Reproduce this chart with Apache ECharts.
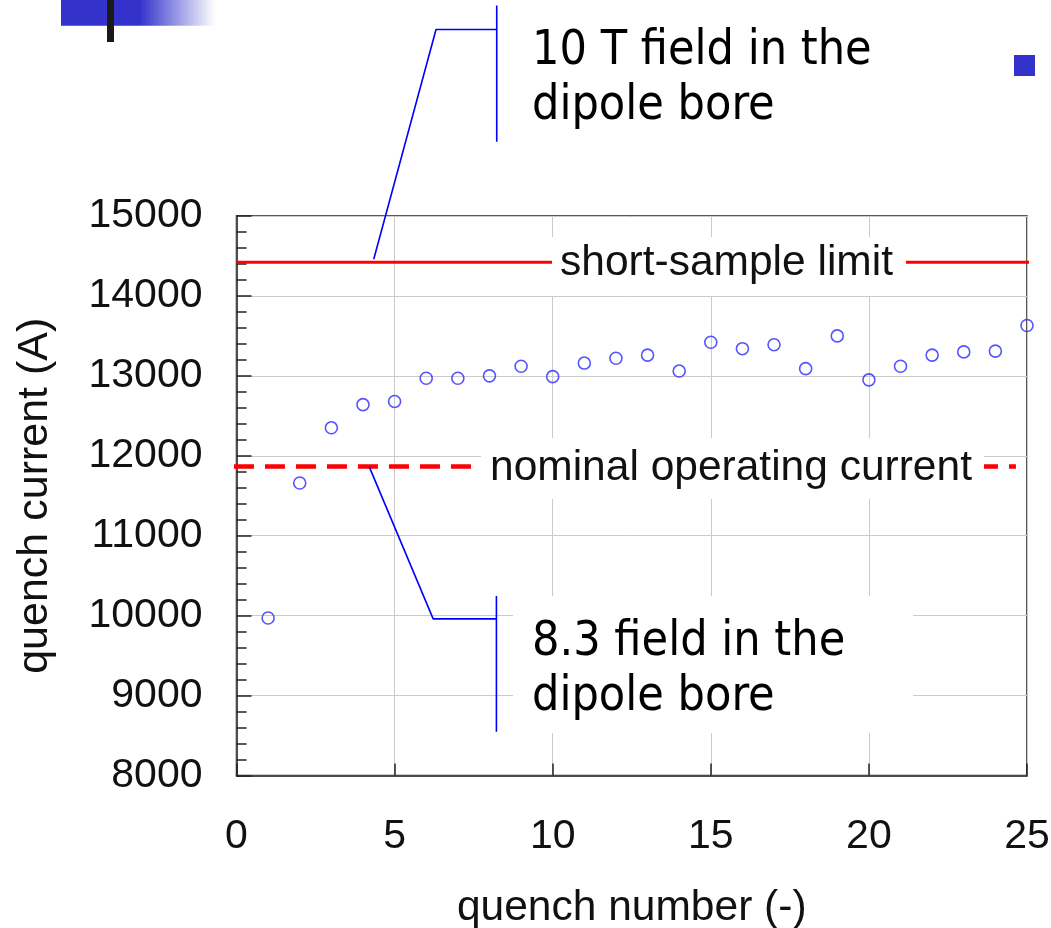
<!DOCTYPE html>
<html>
<head>
<meta charset="utf-8">
<script src="https://cdn.jsdelivr.net/npm/echarts@6/dist/echarts.min.js"></script>
<style>
html,body{margin:0;padding:0;background:#fff;}
#chart{width:1051px;height:928px;}
</style>
</head>
<body>
<div id="chart"></div>
<script>
// ---- data ----
const quenchNumbers = [1,2,3,4,5,6,7,8,9,10,11,12,13,14,15,16,17,18,19,20,21,22,23,24,25];
const quenchCurrents = [9970,11660,12350,12640,12680,12970,12970,13000,13120,12990,13160,13220,13260,13060,13420,13340,13390,13090,13500,12950,13120,13260,13300,13310,13630];
const shortSampleLimit = 14420;
const nominalCurrent = 11866;
const xTicks = [0,5,10,15,20,25];
const yTicks = [8000,9000,10000,11000,12000,13000,14000,15000];
// callouts (data units)
const callout10T = [[4.34,14458],[6.31,17334],[8.23,17334],[8.23,17634],[8.23,15929]];
const callout83 = [[4.2,11862],[6.22,9959],[8.22,9959],[8.22,10246],[8.22,8546]];

const chart = echarts.init(document.getElementById('chart'), null, {renderer:'canvas'});
const FONT = 'Liberation Sans';
const CFONT = "'DejaVu Sans Condensed', 'Liberation Sans'";

const option = {
  backgroundColor:'#ffffff',
  animation:false,
  grid:{left:236.5, right:24, top:216, bottom:152.5, show:true, borderColor:'#222', borderWidth:1.5,
        containLabel:false, outerBoundsMode:'none'},
  xAxis:{
    type:'value', min:xTicks[0], max:xTicks[xTicks.length-1], interval:5,
    name:'quench number (-)', nameLocation:'middle', nameGap:111,
    nameTextStyle:{fontFamily:FONT, fontSize:42.5, color:'#111'},
    axisLine:{show:true, lineStyle:{color:'#222', width:1.5}},
    axisTick:{show:true, inside:true, length:12, lineStyle:{color:'#222', width:1.5}},
    axisLabel:{fontFamily:FONT, fontSize:41, color:'#111', margin:41, formatter:v=>String(v)},
    splitLine:{show:true, lineStyle:{color:'#cbcbcb', width:1}}
  },
  yAxis:{
    type:'value', min:yTicks[0], max:yTicks[yTicks.length-1], interval:1000,
    name:'quench current (A)', nameLocation:'middle', nameGap:180, nameRotate:90,
    nameTextStyle:{fontFamily:FONT, fontSize:43, color:'#111'},
    axisLine:{show:true, lineStyle:{color:'#222', width:1.5}},
    axisTick:{show:true, inside:true, length:15, lineStyle:{color:'#222', width:1.5}},
    minorTick:{show:true, splitNumber:5, length:10, lineStyle:{color:'#222', width:1.5}},
    axisLabel:{fontFamily:FONT, fontSize:41, color:'#111', margin:34, formatter:v=>String(v)},
    splitLine:{show:true, lineStyle:{color:'#cbcbcb', width:1}}
  },
  series:[
    {type:'line', data:[[0,shortSampleLimit],[25.1,shortSampleLimit]], symbol:'none', clip:false,
     lineStyle:{color:'#ff0000', width:3}, z:3},
    {type:'line', data:[[-0.08,nominalCurrent],[24.65,nominalCurrent]], symbol:'none', clip:false,
     lineStyle:{color:'#ff0000', width:4.5, type:[20,11]}, z:3},
    {type:'scatter', data:quenchNumbers.map((q,i)=>[q,quenchCurrents[i]]), symbol:'circle', symbolSize:12,
     itemStyle:{color:'rgba(255,255,255,0)', borderColor:'#2a2aff', borderWidth:1.6}, z:4},
    {type:'line', data:callout10T, symbol:'none', clip:false, lineStyle:{color:'#0000ff', width:1.6}, z:6},
    {type:'line', data:callout83, symbol:'none', clip:false, lineStyle:{color:'#0000ff', width:1.6}, z:6}
  ],
  graphic:[
    // label boxes
    {type:'rect', z:50, shape:{x:552, y:237, width:354, height:59}, style:{fill:'#fff'}},
    {type:'text', z:51, style:{text:'short-sample limit', x:560, y:263, fontFamily:FONT, fontSize:42.5, fill:'#111', align:'left', verticalAlign:'middle'}},
    {type:'rect', z:50, shape:{x:481, y:438, width:503, height:61}, style:{fill:'#fff'}},
    {type:'text', z:51, style:{text:'nominal operating current', x:490, y:468, fontFamily:FONT, fontSize:42.5, fill:'#111', align:'left', verticalAlign:'middle'}},
    {type:'rect', z:50, shape:{x:513, y:596, width:400, height:137}, style:{fill:'#fff'}},
    {type:'text', z:51, style:{text:'8.3 field in the\ndipole bore', x:532, y:615, fontFamily:CFONT, fontSize:48, lineHeight:55, fill:'#000', align:'left', verticalAlign:'top'}},
    {type:'text', z:51, style:{text:'10 T field in the\ndipole bore', x:532, y:24, fontFamily:CFONT, fontSize:48, lineHeight:55, fill:'#000', align:'left', verticalAlign:'top'}},
    // slide decorations
    {type:'rect', z:40, shape:{x:61, y:0, width:154, height:25.7},
     style:{fill:new echarts.graphic.LinearGradient(0,0,1,0,[{offset:0,color:'#3333CC'},{offset:0.51,color:'#3333CC'},{offset:1,color:'rgba(255,255,255,1)'}])}},
    {type:'rect', z:41, shape:{x:107, y:0, width:7, height:42}, style:{fill:'#1a1a1a'}},
    {type:'rect', z:40, shape:{x:1014, y:55, width:21, height:21}, style:{fill:'#3333CC'}}
  ]
};
chart.setOption(option);
</script>
</body>
</html>
